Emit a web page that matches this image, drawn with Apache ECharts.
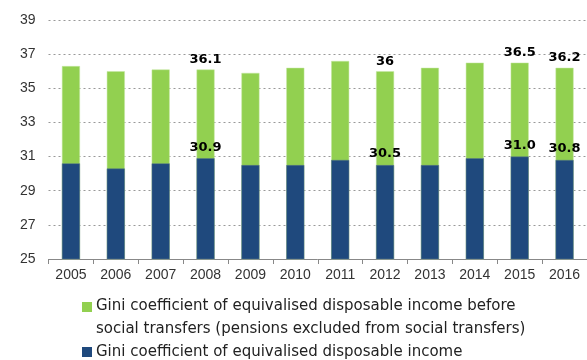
<!DOCTYPE html>
<html>
<head>
<meta charset="utf-8">
<script src="https://cdn.jsdelivr.net/npm/echarts@6/dist/echarts.min.js"></script>
<style>html,body{margin:0;padding:0;background:#fff}#c{width:587px;height:360px}</style>
</head>
<body>
<div id="c"></div>
<script>
var years = ['2005','2006','2007','2008','2009','2010','2011','2012','2013','2014','2015','2016'];
var beforeTransfers = [36.3, 36.0, 36.1, 36.1, 35.9, 36.2, 36.6, 36.0, 36.2, 36.5, 36.5, 36.2];
var disposable = [30.6, 30.3, 30.6, 30.9, 30.5, 30.5, 30.8, 30.5, 30.5, 30.9, 31.0, 30.8];
var beforeLabels = ['', '', '', '36.1', '', '', '', '36', '', '', '36.5', '36.2'];
var disposableLabels = ['', '', '', '30.9', '', '', '', '30.5', '', '', '31.0', '30.8'];
var yTicks = [25, 27, 29, 31, 33, 35, 37, 39];
var seriesNames = [
  'Gini coefficient of equivalised disposable income before\nsocial transfers (pensions excluded from social transfers)',
  'Gini coefficient of equivalised disposable income'
];
var green = '#92D050', blue = '#1F497D';
var labelStyle = {fontFamily: 'DejaVu Sans', fontWeight: 'bold', fontSize: 13, color: '#000'};

var chart = echarts.init(document.getElementById('c'), null, {renderer: 'canvas'});
chart.setOption({
  animation: false,
  grid: {left: 48.5, right: 0, top: 20, bottom: 101},
  xAxis: {
    type: 'category', data: years,
    axisLine: {lineStyle: {color: '#888'}},
    axisTick: {show: true, length: 5, lineStyle: {color: '#888'}},
    axisLabel: {color: '#333', fontSize: 14, fontFamily: 'Liberation Sans', margin: 9}
  },
  yAxis: {
    type: 'value', min: yTicks[0], max: yTicks[yTicks.length - 1], interval: 2,
    axisLine: {show: false}, axisTick: {show: false},
    axisLabel: {color: '#333', fontSize: 14, fontFamily: 'Liberation Sans', margin: 13},
    splitLine: {lineStyle: {color: '#999', width: 1, type: [2, 3]}}
  },
  series: [
    {
      name: seriesNames[0], type: 'bar', data: beforeTransfers, barWidth: 18, barGap: '-100%',
      itemStyle: {color: green, borderColor: '#c5e6a3', borderWidth: 0.5},
      label: {show: true, position: 'top', distance: 3.5, formatter: function (p) { return beforeLabels[p.dataIndex]; }, ...labelStyle}
    },
    {
      name: seriesNames[1], type: 'bar', data: disposable, barWidth: 18, barGap: '-100%',
      itemStyle: {color: blue, borderColor: '#5a7a8a', borderWidth: 0.5},
      label: {show: true, position: 'top', distance: 4.5, formatter: function (p) { return disposableLabels[p.dataIndex]; }, ...labelStyle}
    }
  ],
  graphic: [
    {type: 'rect', left: 82, top: 302, shape: {width: 10, height: 10}, style: {fill: green}},
    {type: 'text', left: 96, top: 295, style: {text: seriesNames[0], font: '15px DejaVu Sans', fill: '#222', lineHeight: 23}},
    {type: 'rect', left: 82, top: 347, shape: {width: 10, height: 10}, style: {fill: blue}},
    {type: 'text', left: 96, top: 341, style: {text: seriesNames[1], font: '15px DejaVu Sans', fill: '#222', lineHeight: 23}}
  ]
});
</script>
</body>
</html>
